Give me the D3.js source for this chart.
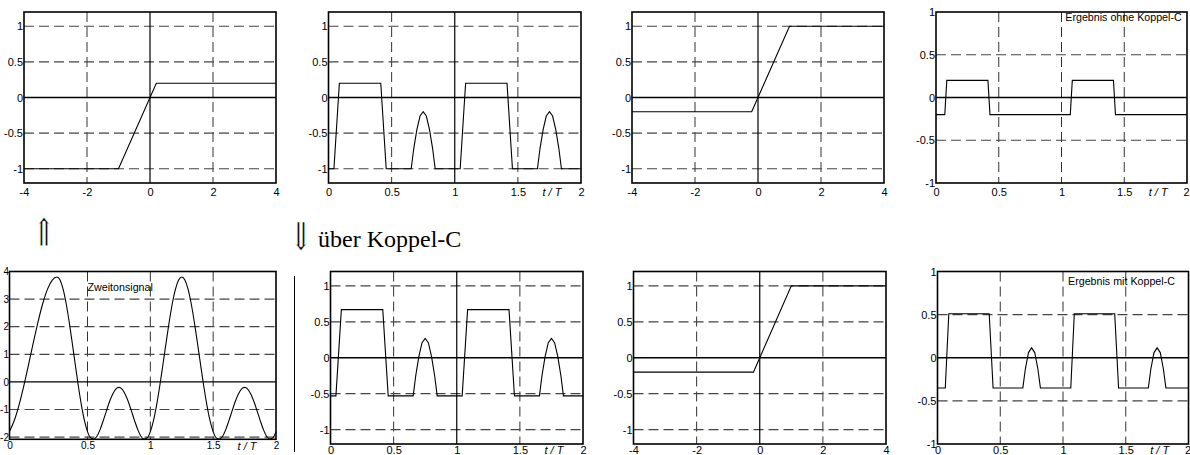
<!DOCTYPE html>
<html>
<head>
<meta charset="utf-8">
<script src="https://cdnjs.cloudflare.com/ajax/libs/d3/7.8.5/d3.min.js"></script>
<style>
  body{margin:0;background:#fff;}
  svg{display:block;}
</style>
</head>
<body>
<svg id="fig" width="1190" height="455"></svg>
<script>
// ---- data ----
var tickTransfer=[-4,-2,0,2,4];
var tickTime=[0,0.5,1,1.5,2];
var tickUnit=[-1,-0.5,0,0.5,1];
var tickTone=[-2,-1,0,1,2,3,4];

// transfer characteristics (input, output)
var kennlinie1=[[-4,-1],[-1,-1],[0.2,0.2],[4,0.2]];
var kennlinie2=[[-4,-0.2],[-0.2,-0.2],[1,1],[4,1]];

// two-tone signal, one sample every 0.025 t/T
var toneStep=0.025;
var toneValues=[
  -1.80,-1.40,-0.84,-0.15,0.62,1.41,2.17,2.84,3.36,3.69,3.80,3.69,3.36,2.84,2.17,1.41,0.62,-0.15,-0.84,-1.40,
  -1.80,-2.03,-2.07,-1.97,-1.73,-1.41,-1.06,-0.72,-0.45,-0.26,-0.20,-0.26,-0.45,-0.72,-1.06,-1.41,-1.73,-1.97,-2.07,-2.03,
  -1.80,-1.40,-0.84,-0.15,0.62,1.41,2.17,2.84,3.36,3.69,3.80,3.69,3.36,2.84,2.17,1.41,0.62,-0.15,-0.84,-1.40,
  -1.80,-2.03,-2.07,-1.97,-1.73,-1.41,-1.06,-0.72,-0.45,-0.26,-0.20,-0.26,-0.45,-0.72,-1.06,-1.41,-1.73,-1.97,-2.07,-2.03,
  -1.80
];

// output of stage 1 (t/T, value)
var stufe1Oben=[
  [0,-1],[0.043,-1],[0.086,0.2],[0.414,0.2],[0.457,-1],
  [0.655,-1],[0.675,-0.72],[0.7,-0.45],[0.725,-0.26],[0.75,-0.2],[0.775,-0.26],[0.8,-0.45],[0.825,-0.72],[0.845,-1],
  [1.043,-1],[1.086,0.2],[1.414,0.2],[1.457,-1],
  [1.655,-1],[1.675,-0.72],[1.7,-0.45],[1.725,-0.26],[1.75,-0.2],[1.775,-0.26],[1.8,-0.45],[1.825,-0.72],[1.845,-1],
  [2,-1]
];
var ergebnisOhne=[
  [0,-0.2],[0.07,-0.2],[0.086,0.2],[0.414,0.2],[0.43,-0.2],
  [1.07,-0.2],[1.086,0.2],[1.414,0.2],[1.43,-0.2],[2,-0.2]
];
var stufe1Unten=[
  [0,-0.53],[0.043,-0.53],[0.086,0.67],[0.414,0.67],[0.457,-0.53],
  [0.655,-0.53],[0.675,-0.25],[0.7,0.02],[0.725,0.21],[0.75,0.27],[0.775,0.21],[0.8,0.02],[0.825,-0.25],[0.845,-0.53],
  [1.043,-0.53],[1.086,0.67],[1.414,0.67],[1.457,-0.53],
  [1.655,-0.53],[1.675,-0.25],[1.7,0.02],[1.725,0.21],[1.75,0.27],[1.775,0.21],[1.8,0.02],[1.825,-0.25],[1.845,-0.53],
  [2,-0.53]
];
var ergebnisMit=[
  [0,-0.35],[0.062,-0.35],[0.09,0.51],[0.412,0.51],[0.443,-0.35],
  [0.68,-0.35],[0.7,-0.13],[0.725,0.06],[0.75,0.115],[0.775,0.06],[0.8,-0.13],[0.82,-0.35],
  [1.062,-0.35],[1.09,0.51],[1.412,0.51],[1.443,-0.35],
  [1.68,-0.35],[1.7,-0.13],[1.725,0.06],[1.75,0.115],[1.775,0.06],[1.8,-0.13],[1.82,-0.35],
  [2,-0.35]
];

// ---- drawing ----
var svg=d3.select("#fig");
var sans='"Liberation Sans", Arial, sans-serif';

function panel(p){
  var x=d3.scaleLinear().domain(p.xDom).range(p.xRange);
  var y=d3.scaleLinear().domain(p.yDom).range([p.bottom,p.top]);
  var x0=p.xRange[0], x1=p.xRange[p.xRange.length-1];
  var fs=p.fontSize||"11px";
  var g=svg.append("g");

  // dashed grid
  g.append("g").selectAll("line").data(p.xGrid).join("line")
    .attr("x1",function(d){return x(d);}).attr("x2",function(d){return x(d);})
    .attr("y1",p.top).attr("y2",p.bottom)
    .attr("stroke","#333").attr("stroke-width",1).attr("stroke-dasharray","10,5");
  g.append("g").selectAll("line").data(p.yGrid).join("line")
    .attr("x1",x0).attr("x2",x1)
    .attr("y1",function(d){return y(d);}).attr("y2",function(d){return y(d);})
    .attr("stroke","#444").attr("stroke-width",1.2).attr("stroke-dasharray","10,5");

  // solid axis lines
  g.append("g").selectAll("line").data(p.xSolid).join("line")
    .attr("x1",function(d){return x(d);}).attr("x2",function(d){return x(d);})
    .attr("y1",p.top).attr("y2",p.bottom)
    .attr("stroke","#000").attr("stroke-width",1.2);
  g.append("g").selectAll("line").data(p.ySolid).join("line")
    .attr("x1",x0).attr("x2",x1)
    .attr("y1",function(d){return y(d);}).attr("y2",function(d){return y(d);})
    .attr("stroke","#000").attr("stroke-width",1.3);

  // curve
  g.append("path").datum(p.data)
    .attr("fill","none").attr("stroke","#000").attr("stroke-width",1.1)
    .attr("d",d3.line()
      .x(function(d){return x(d[0]);})
      .y(function(d){return y(d[1]);})
      .curve(p.curve||d3.curveLinear));

  // frame
  g.append("rect")
    .attr("x",x0).attr("y",p.top).attr("width",x1-x0).attr("height",p.bottom-p.top)
    .attr("fill","none").attr("stroke","#000").attr("stroke-width",1.6);

  // tick labels
  var ax=g.append("g").attr("transform","translate(0,"+p.bottom+")")
    .call(d3.axisBottom(x).tickValues(p.xTicks).tickSize(0).tickPadding(p.labelPad)
      .tickFormat(function(d){return String(d);}));
  var ay=g.append("g").attr("transform","translate("+x0+",0)")
    .call(d3.axisLeft(y).tickValues(p.yTicks).tickSize(0).tickPadding(p.yPad||1)
      .tickFormat(function(d){return String(d);}));
  [ax,ay].forEach(function(a){
    a.select(".domain").remove();
    a.selectAll("text").attr("font-family",sans).attr("font-size",fs).attr("fill","#000");
  });
  if(p.edgeLabel){
    // last x label sits at the page edge: keep it inside
    ax.selectAll(".tick").filter(function(d){return d===2;}).select("text")
      .attr("text-anchor","end").attr("dx",2);
  }

  if(p.tT){
    g.append("text")
      .attr("x",x(1.77)).attr("y",p.bottom+p.labelPad).attr("dy","0.71em")
      .attr("text-anchor","middle")
      .attr("font-family",sans).attr("font-size","11px").attr("font-style","italic")
      .text("t / T");
  }
  if(p.label){
    g.append("text")
      .attr("x",x(p.label.t)).attr("y",p.label.dy+p.top)
      .attr("font-family",sans).attr("font-size","10.7px")
      .text(p.label.text);
  }
}

var toneData=toneValues.map(function(v,i){return [i*toneStep,v];});

var topY=12, botY=183;
var top2=271.5, bot2=444;

panel({xDom:[-4,4],xRange:[24,276],yDom:[-1.2,1.2],top:topY,bottom:botY,labelPad:5.5,
  xTicks:tickTransfer,yTicks:tickUnit,xGrid:[-2,2],yGrid:[-1,-0.5,0.5,1],xSolid:[0],ySolid:[0],
  data:kennlinie1});
panel({xDom:[0,2],xRange:[328.5,581],yDom:[-1.2,1.2],top:topY,bottom:botY,labelPad:5.5,
  xTicks:tickTime,yTicks:tickUnit,xGrid:[0.5,1.5],yGrid:[-1,-0.5,0.5,1],xSolid:[1],ySolid:[0],
  data:stufe1Oben,tT:true});
panel({xDom:[-4,4],xRange:[632,884],yDom:[-1.2,1.2],top:topY,bottom:botY,labelPad:5.5,
  xTicks:tickTransfer,yTicks:tickUnit,xGrid:[-2,2],yGrid:[-1,-0.5,0.5,1],xSolid:[0],ySolid:[0],
  data:kennlinie2});
panel({xDom:[0,2],xRange:[936,1187],yDom:[-1,1],top:topY,bottom:botY,labelPad:5.5,
  xTicks:tickTime,yTicks:tickUnit,xGrid:[0.5,1,1.5],yGrid:[-0.5,0.5],xSolid:[],ySolid:[0],
  data:ergebnisOhne,tT:true,edgeLabel:true,label:{t:1.03,dy:9,text:"Ergebnis ohne Koppel-C"}});

panel({xDom:[0,0.25,0.5,2],xRange:[9.5,57,87.5,276],yDom:[-2.08,4],top:top2,bottom:439.3,labelPad:2.5,
  xTicks:tickTime,yTicks:tickTone,xGrid:[0.5,1,1.5],yGrid:[-2,-1,1,2,3],xSolid:[],ySolid:[0],
  fontSize:"10px",yPad:0.5,
  data:toneData,curve:d3.curveMonotoneX,tT:true,label:{t:0.5,dy:19,text:"Zweitonsignal"}});
panel({xDom:[0,2],xRange:[330.5,583],yDom:[-1.2,1.2],top:top2,bottom:bot2,labelPad:2.5,
  xTicks:tickTime,yTicks:tickUnit,xGrid:[0.5,1.5],yGrid:[-1,-0.5,0.5,1],xSolid:[1],ySolid:[0],
  data:stufe1Unten,tT:true});
panel({xDom:[-4,4],xRange:[633.5,886],yDom:[-1.2,1.2],top:top2,bottom:bot2,labelPad:2.5,
  xTicks:tickTransfer,yTicks:tickUnit,xGrid:[-2,2],yGrid:[-1,-0.5,0.5,1],xSolid:[0],ySolid:[0],
  data:kennlinie2});
panel({xDom:[0,2],xRange:[937.5,1188.5],yDom:[-1,1],top:top2,bottom:bot2,labelPad:2.5,
  xTicks:tickTime,yTicks:tickUnit,xGrid:[0.5,1,1.5],yGrid:[-0.5,0.5],xSolid:[],ySolid:[0],
  data:ergebnisMit,tT:true,edgeLabel:true,label:{t:1.04,dy:13,text:"Ergebnis mit Koppel-C"}});

// separator and arrows between the rows
svg.append("line")
  .attr("x1",294.5).attr("x2",294.5).attr("y1",276).attr("y2",452)
  .attr("stroke","#000").attr("stroke-width",1);

// double arrows, a thin white outline keeps the glyph strokes light
[["\u21D1",44,246],["\u21D3",301,250]].forEach(function(a){
  svg.append("text")
    .attr("transform","translate("+a[1]+","+a[2]+") scale(0.95,1.25)")
    .attr("text-anchor","middle")
    .attr("font-family",'"DejaVu Serif", serif').attr("font-size","31px")
    .attr("fill","#000").attr("stroke","#fff").attr("stroke-width",0.6)
    .text(a[0]);
});
svg.append("text")
  .attr("x",318).attr("y",247)
  .attr("font-family",'"Liberation Serif", "Times New Roman", serif').attr("font-size","24px")
  .text("über Koppel-C");
</script>
</body>
</html>
